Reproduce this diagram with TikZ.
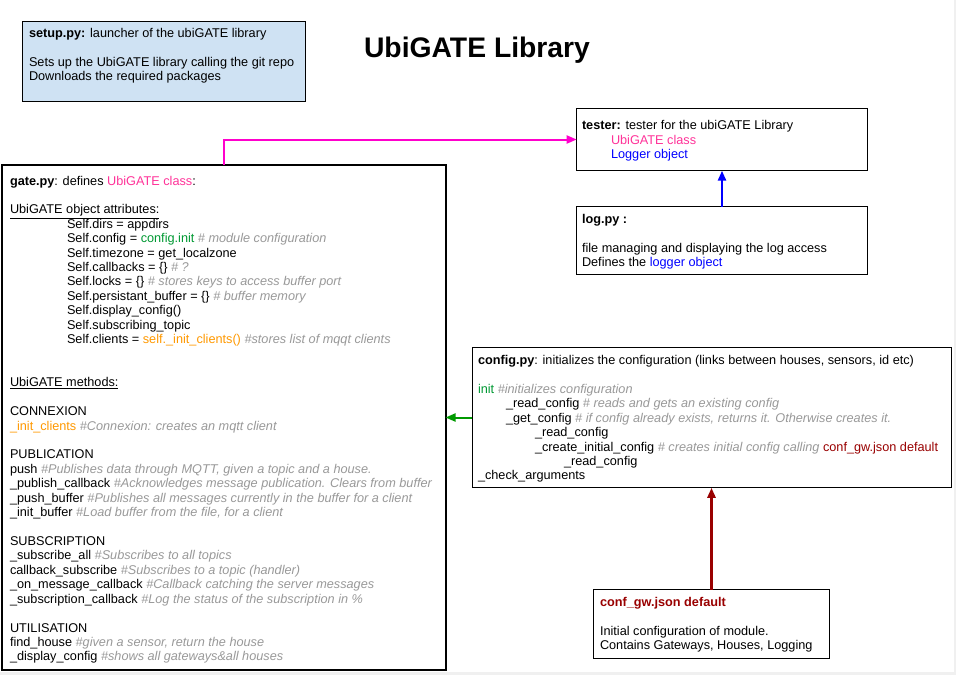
\documentclass[tikz,border=0pt]{standalone}
\usepackage{fontspec}
\setmainfont{Liberation Sans}
\usetikzlibrary{arrows.meta,calc}
\definecolor{pinkc}{HTML}{FF3399}
\definecolor{magc}{HTML}{FF00CC}
\definecolor{greenc}{HTML}{009933}
\definecolor{greenarr}{HTML}{009900}
\definecolor{orangec}{HTML}{FF9900}
\definecolor{cmgray}{HTML}{999999}
\definecolor{bluec}{HTML}{0000FF}
\definecolor{redc}{HTML}{990000}
\definecolor{setupfill}{HTML}{CFE2F3}
\definecolor{edgegray}{HTML}{F0F0F0}
\newcommand\cmt[1]{{\color{cmgray}\itshape #1}}
\begin{document}
\begin{tikzpicture}[x=1pt,y=-1pt,
  box/.style={draw=black,line width=1pt,inner sep=0pt,outer sep=0pt,anchor=north west},
  txt/.style={inner sep=0pt,outer sep=0pt,anchor=north west,align=left,font=\fontsize{12.7}{14.42}\selectfont},
  conn/.style={line width=2pt,-{Triangle[length=10pt,width=8pt]}}]
% page
\fill[edgegray] (0,0) rectangle (956,675);
\fill[white] (0,0) rectangle (954,672);
\useasboundingbox (0,0) rectangle (956,675);

% title
\node[inner sep=0pt,anchor=base,font=\fontsize{28.3}{34}\selectfont\bfseries] (title) at (477,57) {UbiGATE Library};

% boxes
\node[box,fill=setupfill,minimum width=283pt,minimum height=80pt] (setup) at (22.7,21.7) {};
\node[box,line width=2pt,minimum width=443.5pt,minimum height=505pt] (gate) at (2,165) {};
\node[box,minimum width=290.6pt,minimum height=62.4pt] (tester) at (576.7,108.3) {};
\node[box,minimum width=290.6pt,minimum height=67.6pt] (log) at (576.7,206.7) {};
\node[box,minimum width=479.5pt,minimum height=140.6pt] (config) at (472,347.2) {};
\node[box,minimum width=236pt,minimum height=68.6pt] (conf) at (593.5,589.5) {};

% texts
\node[txt] (setuptxt) at (29,27.4) {\strut\textbf{setup.py:} launcher of the ubiGATE library\\
\strut\\
Sets up the UbiGATE library calling the git repo\\
Downloads the required packages};

\node[txt] (gatetxt) at (10,174.9) {\strut\textbf{gate.py}: defines {\color{pinkc}UbiGATE class}:\\
\strut\\
\underline{UbiGATE object attributes:}\\
\hspace*{57pt}Self.dirs = appdirs\\
\hspace*{57pt}Self.config = {\color{greenc}config.init} \cmt{\# module configuration}\\
\hspace*{57pt}Self.timezone = get\_localzone\\
\hspace*{57pt}Self.callbacks = \{\} \cmt{\# ?}\\
\hspace*{57pt}Self.locks = \{\} \cmt{\# stores keys to access buffer port}\\
\hspace*{57pt}Self.persistant\_buffer = \{\} \cmt{\# buffer memory}\\
\hspace*{57pt}Self.display\_config()\\
\hspace*{57pt}Self.subscribing\_topic\\
\hspace*{57pt}Self.clients = {\color{orangec}self.\_init\_clients()} \cmt{\#stores list of mqqt clients}\\
\strut\\
\strut\\
\underline{UbiGATE methods:}\\
\strut\\
CONNEXION\\
{\color{orangec}\_init\_clients} \cmt{\#Connexion: creates an mqtt client}\\
\strut\\
PUBLICATION\\
push \cmt{\#Publishes data through MQTT, given a topic and a house.}\\
\_publish\_callback \cmt{\#Acknowledges message publication. Clears from buffer}\\
\_push\_buffer \cmt{\#Publishes all messages currently in the buffer for a client}\\
\_init\_buffer \cmt{\#Load buffer from the file, for a client}\\
\strut\\
SUBSCRIPTION\\
\_subscribe\_all \cmt{\#Subscribes to all topics}\\
callback\_subscribe \cmt{\#Subscribes to a topic (handler)}\\
\_on\_message\_callback \cmt{\#Callback catching the server messages}\\
\_subscription\_callback \cmt{\#Log the status of the subscription in \%}\\
\strut\\
UTILISATION\\
find\_house \cmt{\#given a sensor, return the house}\\
\_display\_config \cmt{\#shows all gateways\&all houses}};

\node[txt] (testertxt) at (582,119.9) {\strut\textbf{tester:} tester for the ubiGATE Library\\
\hspace*{29pt}{\color{pinkc}UbiGATE class}\\
\hspace*{29pt}{\color{bluec}Logger object}};

\node[txt] (logtxt) at (582,213.4) {\strut\textbf{log.py :}\\
\strut\\
file managing and displaying the log access\\
Defines the {\color{bluec}logger object}};

\node[txt] (configtxt) at (478,354.4) {\strut\textbf{config.py}: initializes the configuration (links between houses, sensors, id etc)\\
\strut\\
{\color{greenc}init} \cmt{\#initializes configuration}\\
\hspace*{28pt}\_read\_config \cmt{\# reads and gets an existing config}\\
\hspace*{28pt}\_get\_config \cmt{\# if config already exists, returns it. Otherwise creates it.}\\
\hspace*{57pt}\_read\_config\\
\hspace*{57pt}\_create\_initial\_config \cmt{\# creates initial config calling} {\color{redc}conf\_gw.json default}\\
\hspace*{86pt}\_read\_config\\
\_check\_arguments};

\node[txt] (conftxt) at (600,596.4) {\strut{\color{redc}\textbf{conf\_gw.json default}}\\
\strut\\
Initial configuration of module.\\
Contains Gateways, Houses, Logging};

% connectors
\draw[conn,draw=magc] ([xshift=222.3pt]gate.north west) |- (tester.west);
\draw[conn,draw=bluec,line width=2.5pt] (log.north) -- (tester.south);
\draw[conn,draw=greenarr] (config.west) -- (config.west -| gate.east);
\draw[conn,draw=redc,line width=2.5pt] (conf.north) -- (conf.north |- config.south);
\end{tikzpicture}
\end{document}
